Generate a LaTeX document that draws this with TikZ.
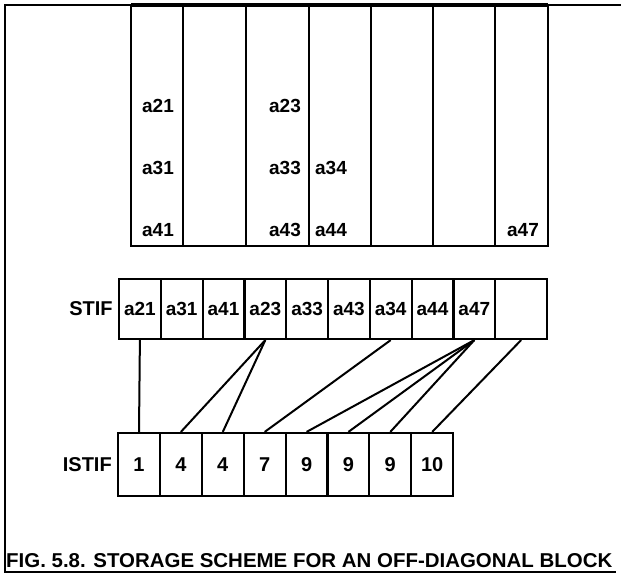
\documentclass[tikz,border=0pt]{standalone}
\usepackage{fontspec}
\usepackage{graphicx}
\setmainfont{Liberation Sans}
\usetikzlibrary{positioning}

\tikzset{
  cell/.style={draw, line width=2.2pt, minimum width=41.8pt, minimum height=60pt, inner sep=0pt, font=\fontsize{19}{21}\selectfont\bfseries},
  numcell/.style={cell, minimum width=41.9pt, minimum height=63pt, font=\fontsize{20}{22}\selectfont\bfseries},
  tag/.style={inner sep=0pt, font=\fontsize{20}{22}\selectfont\bfseries},
  entry/.style={inner sep=0pt, font=\fontsize{19}{21}\selectfont\bfseries},
  link/.style={line width=2pt},
}

\begin{document}
\begin{tikzpicture}[x=1pt, y=-1pt]
    \useasboundingbox (0,0) rectangle (621,576);

    % Draw the outer frame
    \draw[line width=1.6pt] (621,5) -- (5,5) -- (5,572) -- (616,572);

    % Draw the columns of the block
    \draw[line width=2.4pt] (131,5) rectangle (548,246);
    \draw[line width=4pt] (131,5) -- (548,5);
    \draw[line width=2.4pt] (183,5) -- (183,246) (246,5) -- (246,246) (309,5) -- (309,246)
        (371,5) -- (371,246) (433,5) -- (433,246) (495,5) -- (495,246);

    % Label the entries of the block
    \node[entry] (a21) at (158,106) {a21};
    \node[entry] (a31) at (158,168) {a31};
    \node[entry] (a41) at (158,230) {a41};
    \node[entry] (a23) at (285,106) {a23};
    \node[entry] (a33) at (285,168) {a33};
    \node[entry] (a43) at (285,230) {a43};
    \node[entry] (a34) at (331,168) {a34};
    \node[entry] (a44) at (331,230) {a44};
    \node[entry] (a47) at (523,230) {a47};

    % Draw the STIF array
    \node[cell] (s1) at (139.9,309) {a21};
    \node[cell] (s2) at (181.7,309) {a31};
    \node[cell] (s3) at (223.5,309) {a41};
    \node[cell] (s4) at (265.3,309) {a23};
    \node[cell] (s5) at (307.1,309) {a33};
    \node[cell] (s6) at (348.9,309) {a43};
    \node[cell] (s7) at (390.7,309) {a34};
    \node[cell] (s8) at (432.5,309) {a44};
    \node[cell] (s9) at (474.3,309) {a47\hspace{4pt}};
    \node[cell, minimum width=51.8pt] (s10) at (521.1,309) {};
    \node[tag, left=5pt of s1] (stif) {STIF};

    % Draw the ISTIF array
    \node[numcell] (i1) at (139,464.5) {1};
    \node[numcell] (i2) at (180.9,464.5) {4};
    \node[numcell] (i3) at (222.8,464.5) {4};
    \node[numcell] (i4) at (264.7,464.5) {7};
    \node[numcell] (i5) at (306.6,464.5) {9};
    \node[numcell] (i6) at (348.4,464.5) {9};
    \node[numcell] (i7) at (390.3,464.5) {9};
    \node[numcell] (i8) at (432.2,464.5) {10};
    \node[tag, left=5pt of i1] (istif) {ISTIF};

    % Draw the pointers
    \draw[link] (s1.south) -- (i1.north);
    \draw[link] (s4.south) -- (i2.north);
    \draw[link] (s4.south) -- (i3.north);
    \draw[link] (s7.south) -- (i4.north);
    \draw[link] (s9.south) -- (i5.north);
    \draw[link] (s9.south) -- (i6.north);
    \draw[link] (s9.south) -- (i7.north);
    \draw[link] (s10.south) -- (i8.north);

    % Caption
    \node[anchor=base west, inner sep=0pt] (caption) at (6,567)
        {\resizebox{606pt}{14pt}{\bfseries FIG. 5.8. STORAGE SCHEME FOR AN OFF-DIAGONAL BLOCK}};
\end{tikzpicture}
\end{document}
